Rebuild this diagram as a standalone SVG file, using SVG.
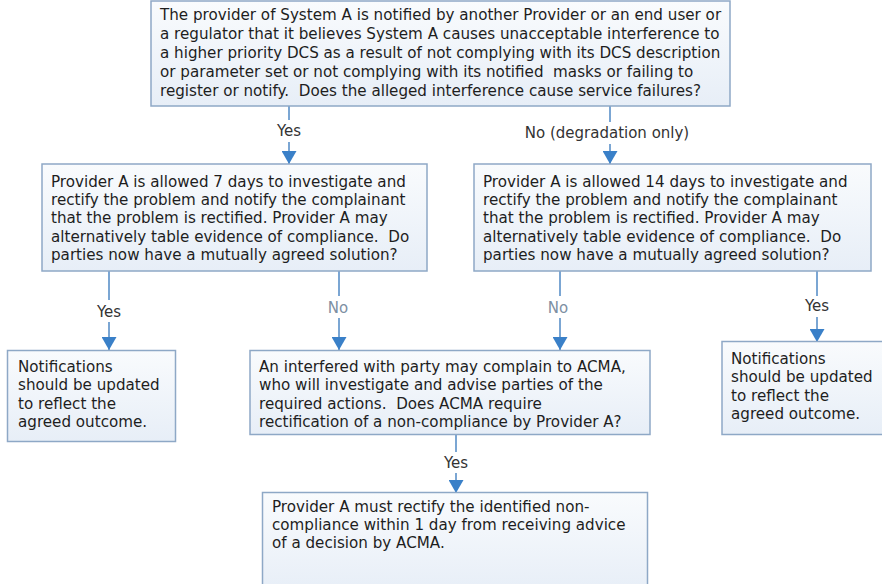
<svg xmlns="http://www.w3.org/2000/svg" width="882" height="584" viewBox="0 0 882 584">
<defs>
<linearGradient id="g" x1="0" y1="0" x2="0" y2="1">
<stop offset="0" stop-color="#f9fbfd"/>
<stop offset="1" stop-color="#e7eef7"/>
</linearGradient>
<marker id="arr" markerUnits="userSpaceOnUse" markerWidth="14" markerHeight="15" viewBox="0 0 14 15" refX="13" refY="7.5" orient="auto">
<path d="M0,0 L13,7.5 L0,15 Z" fill="#3a80c8"/>
</marker>
</defs>
<style>
.box{fill:url(#g);stroke:#8ea8c6;stroke-width:1.5}
.t{font-family:"DejaVu Sans",Verdana,sans-serif;font-size:15.15px;fill:#1e1e1e;white-space:pre}
.c{stroke:#5a90c8;stroke-width:1.6;fill:none}
.yes{font-family:"DejaVu Sans",Verdana,sans-serif;font-size:15px;fill:#333;text-anchor:middle}
.no{font-family:"DejaVu Sans",Verdana,sans-serif;font-size:15px;fill:#7d8fa3;text-anchor:middle}
</style>
<rect width="882" height="584" fill="#ffffff"/>
<g id="connectors">
<line class="c" x1="289" y1="106" x2="289" y2="120"/>
<line class="c" x1="289" y1="142" x2="289" y2="164" marker-end="url(#arr)"/>
<text class="yes" x="289" y="136">Yes</text>
<line class="c" x1="610" y1="106" x2="610" y2="122"/>
<line class="c" x1="610" y1="144" x2="610" y2="164" marker-end="url(#arr)"/>
<text class="yes" x="607" y="138">No (degradation only)</text>
<line class="c" x1="109" y1="271" x2="109" y2="300"/>
<line class="c" x1="109" y1="322" x2="109" y2="350" marker-end="url(#arr)"/>
<text class="yes" x="109" y="317">Yes</text>
<line class="c" x1="339" y1="271" x2="339" y2="296"/>
<line class="c" x1="339" y1="318" x2="339" y2="350" marker-end="url(#arr)"/>
<text class="no" x="338" y="313">No</text>
<line class="c" x1="560" y1="271" x2="560" y2="296"/>
<line class="c" x1="560" y1="318" x2="560" y2="350" marker-end="url(#arr)"/>
<text class="no" x="558" y="313">No</text>
<line class="c" x1="817" y1="271" x2="817" y2="296"/>
<line class="c" x1="817" y1="317" x2="817" y2="342" marker-end="url(#arr)"/>
<text class="yes" x="817" y="311">Yes</text>
<line class="c" x1="456" y1="434" x2="456" y2="452"/>
<line class="c" x1="456" y1="473" x2="456" y2="493" marker-end="url(#arr)"/>
<text class="yes" x="456" y="468">Yes</text>
</g>
<g id="n1">
<rect class="box" x="151" y="1" width="579" height="105"/>
<text class="t" x="160" y="20">The provider of System A is notified by another Provider or an end user or</text>
<text class="t" x="160" y="39">a regulator that it believes System A causes unacceptable interference to</text>
<text class="t" x="160" y="58">a higher priority DCS as a result of not complying with its DCS description</text>
<text class="t" x="160" y="77">or parameter set or not complying with its notified  masks or failing to</text>
<text class="t" x="160" y="96">register or notify.  Does the alleged interference cause service failures?</text>
</g>
<g id="n2">
<rect class="box" x="42" y="164" width="385" height="107"/>
<text class="t" x="51" y="187">Provider A is allowed 7 days to investigate and</text>
<text class="t" x="51" y="205">rectify the problem and notify the complainant</text>
<text class="t" x="51" y="223">that the problem is rectified. Provider A may</text>
<text class="t" x="51" y="242">alternatively table evidence of compliance.  Do</text>
<text class="t" x="51" y="260">parties now have a mutually agreed solution?</text>
</g>
<g id="n3">
<rect class="box" x="474" y="164" width="397" height="107"/>
<text class="t" x="483" y="187">Provider A is allowed 14 days to investigate and</text>
<text class="t" x="483" y="205">rectify the problem and notify the complainant</text>
<text class="t" x="483" y="223">that the problem is rectified. Provider A may</text>
<text class="t" x="483" y="242">alternatively table evidence of compliance.  Do</text>
<text class="t" x="483" y="260">parties now have a mutually agreed solution?</text>
</g>
<g id="n4">
<rect class="box" x="7.5" y="350.5" width="168" height="91"/>
<text class="t" x="18" y="372">Notifications</text>
<text class="t" x="18" y="390">should be updated</text>
<text class="t" x="18" y="409">to reflect the</text>
<text class="t" x="18" y="427">agreed outcome.</text>
</g>
<g id="n5">
<rect class="box" x="250" y="350.5" width="400" height="84"/>
<text class="t" x="259" y="372">An interfered with party may complain to ACMA,</text>
<text class="t" x="259" y="390">who will investigate and advise parties of the</text>
<text class="t" x="259" y="409">required actions.  Does ACMA require</text>
<text class="t" x="259" y="427">rectification of a non-compliance by Provider A?</text>
</g>
<g id="n6">
<rect class="box" x="722" y="341.5" width="170" height="93"/>
<text class="t" x="731" y="364">Notifications</text>
<text class="t" x="731" y="382">should be updated</text>
<text class="t" x="731" y="401">to reflect the</text>
<text class="t" x="731" y="419">agreed outcome.</text>
</g>
<g id="n7">
<rect class="box" x="262.5" y="492.5" width="385" height="100"/>
<text class="t" x="272" y="512">Provider A must rectify the identified non-</text>
<text class="t" x="272" y="530">compliance within 1 day from receiving advice</text>
<text class="t" x="272" y="548">of a decision by ACMA.</text>
</g>
</svg>
